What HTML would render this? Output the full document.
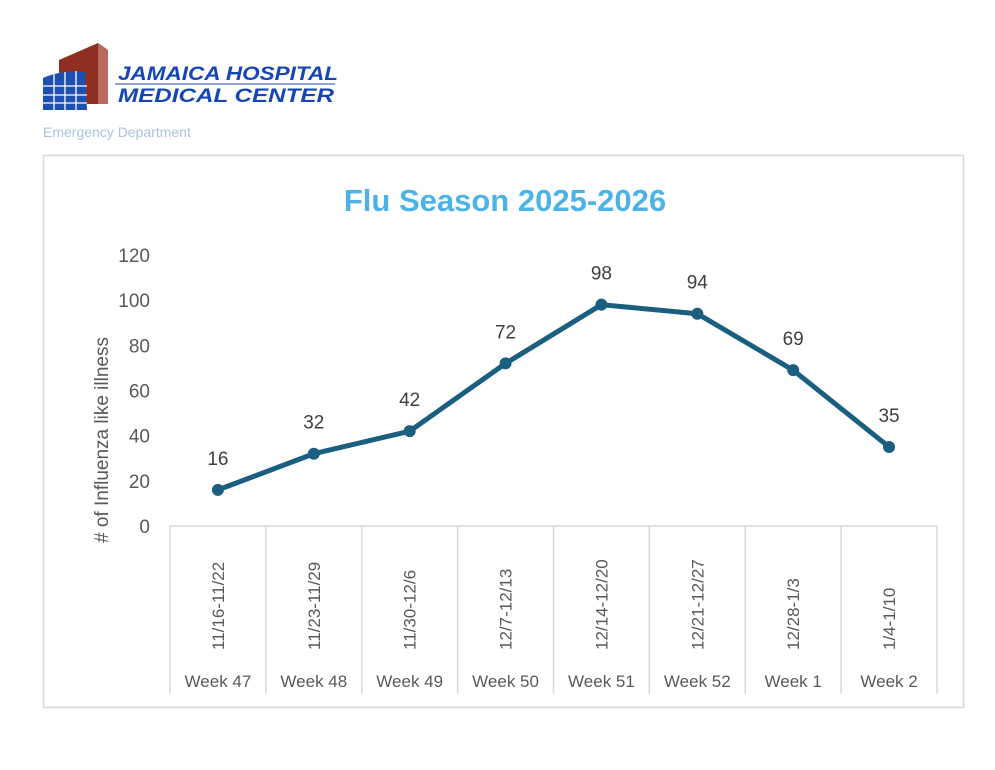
<!DOCTYPE html>
<html><head><meta charset="utf-8"><style>
body{margin:0;background:#fff;width:995px;height:765px;overflow:hidden;font-family:"Liberation Sans",sans-serif}
</style></head><body>
<svg width="995" height="765">
<g>
<polygon points="59,60 98,43 108,50 108,104 59,104" fill="#8e2f22"/>
<polygon points="98,43 108,50 108,104 98,104" fill="#b86a5e"/>
<path d="M43,78 Q60,70 85,72 L87,110 L43,110 Z" fill="#1d4fb0"/>
<g stroke="#fff" stroke-width="1.3">
<line x1="43" y1="86" x2="87" y2="86"/><line x1="43" y1="95" x2="87" y2="95"/><line x1="43" y1="103" x2="87" y2="103"/>
<line x1="54" y1="74" x2="54" y2="110"/><line x1="65" y1="72" x2="65" y2="110"/><line x1="76" y1="71" x2="76" y2="110"/>
</g>
<line x1="115" y1="84" x2="335" y2="84" stroke="#1d4fb0" stroke-width="1"/>
<text x="118" y="80" font-size="19" font-weight="bold" font-style="italic" fill="#1447b5" textLength="220" lengthAdjust="spacingAndGlyphs">JAMAICA HOSPITAL</text>
<text x="118" y="102" font-size="19" font-weight="bold" font-style="italic" fill="#1447b5" textLength="216" lengthAdjust="spacingAndGlyphs">MEDICAL CENTER</text>
</g>
<text x="43" y="137" font-size="14" fill="#a9c3e3">Emergency Department</text>
<rect x="43.5" y="155.5" width="920" height="552" fill="#fff" stroke="#d9d9d9" stroke-width="1.5"/>
<text x="505" y="211" text-anchor="middle" font-size="31" font-weight="bold" fill="#4db3e6">Flu Season 2025-2026</text>
<text transform="translate(108,440) rotate(-90)" text-anchor="middle" font-size="19" fill="#595959"># of Influenza like illness</text>
<g id="chart"></g>
</svg>
<script>
const dates=["11/16-11/22","11/23-11/29","11/30-12/6","12/7-12/13","12/14-12/20","12/21-12/27","12/28-1/3","1/4-1/10"];
const weeks=["Week 47","Week 48","Week 49","Week 50","Week 51","Week 52","Week 1","Week 2"];
const values=[16,32,42,72,98,94,69,35];
const yTicks=[0,20,40,60,80,100,120];
const NS="http://www.w3.org/2000/svg";
const g=document.getElementById('chart');
const x0=170,x1=937,yBase=526,yTop=255;
const bw=(x1-x0)/dates.length;
const X=i=>x0+bw*(i+0.5);
const Y=v=>yBase-(v/120)*(yBase-yTop);
function mk(t,a,txt){const e=document.createElementNS(NS,t);for(const k in a)e.setAttribute(k,a[k]);if(txt!=null)e.textContent=txt;g.appendChild(e);return e;}
yTicks.forEach(t=>{
const e=mk('text',{x:150,y:Y(t)+7,'text-anchor':'end','font-size':19,fill:'#595959'},t);


});
const ax=mk('line',{x1:x0,y1:yBase,x2:x1,y2:yBase,stroke:'#d9d9d9','stroke-width':1.5});


for(let i=0;i<=dates.length;i++){
const l=mk('line',{x1:x0+bw*i,y1:yBase,x2:x0+bw*i,y2:694,stroke:'#d9d9d9','stroke-width':1.5});


}
dates.forEach((d,i)=>{
const t=mk('text',{transform:`translate(${X(i)+6},${650}) rotate(-90)`,'font-size':17,fill:'#595959'},d);


const w=mk('text',{x:X(i),y:687,'text-anchor':'middle','font-size':17,fill:'#595959'},weeks[i]);


});
const pl=mk('polyline',{points:values.map((v,i)=>X(i)+','+Y(v)).join(' '),fill:'none',stroke:'#1a5e80','stroke-width':5,'stroke-linejoin':'round'});


values.forEach((v,i)=>{
const c=mk('circle',{cx:X(i),cy:Y(v),r:6,fill:'#1a5e80'});


const t=mk('text',{x:X(i),y:Y(v)-25,'text-anchor':'middle','font-size':19,fill:'#404040'},v);


});
</script>
</body></html>
